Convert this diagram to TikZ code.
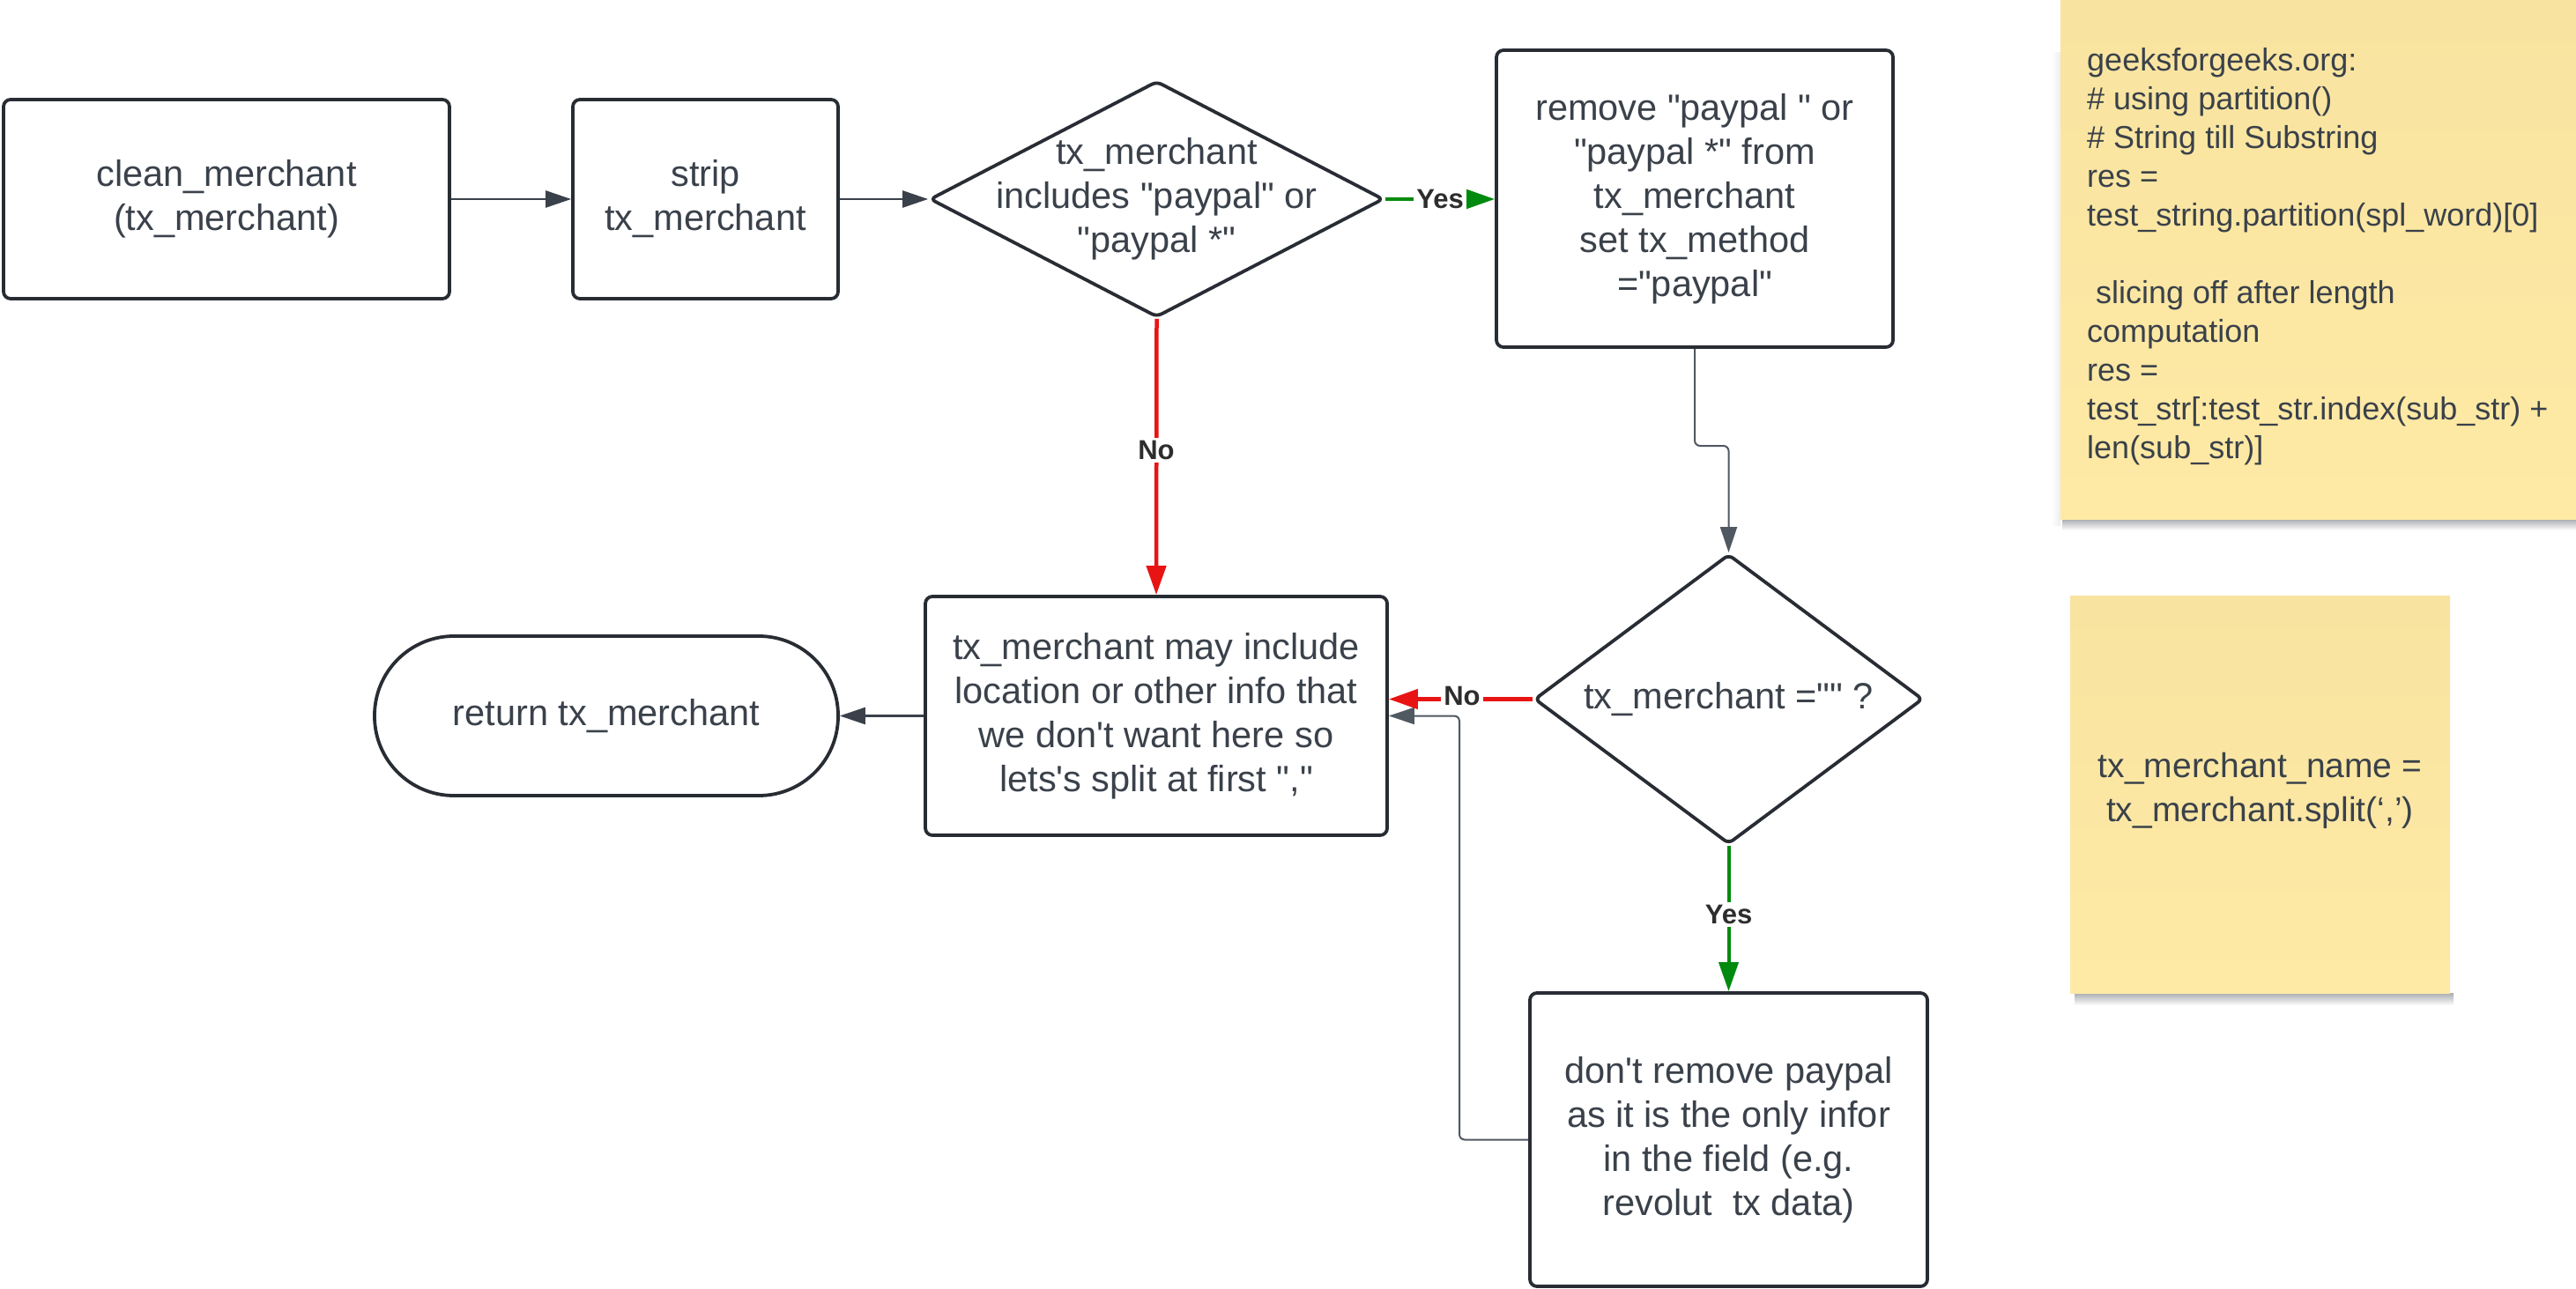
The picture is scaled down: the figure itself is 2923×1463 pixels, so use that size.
\documentclass[tikz,border=0pt]{standalone}
\usepackage{fontspec}
\newfontfamily\arialf{Liberation Sans}
\usetikzlibrary{arrows.meta,shapes.geometric}
\definecolor{textc}{RGB}{58,65,74}
\definecolor{borderc}{RGB}{40,44,51}
\definecolor{linec}{RGB}{58,65,74}
\definecolor{thinc}{RGB}{80,88,98}
\definecolor{redc}{RGB}{232,20,20}
\definecolor{greenc}{RGB}{0,138,14}
\definecolor{labc}{RGB}{45,45,45}
\definecolor{stickytop}{RGB}{248,228,160}
\definecolor{stickybot}{RGB}{254,234,165}
\definecolor{shadc}{RGB}{170,172,178}
\tikzset{
  txt/.style={text=textc, align=center, inner sep=0pt,
    font=\arialf\fontsize{41.5}{50}\selectfont},
  box/.style={txt, draw=borderc, line width=3.8pt, rounded corners=8pt, fill=white},
  stadium/.style={txt, draw=borderc, line width=3.8pt, rounded corners=90pt, fill=white},
  dia/.style={diamond, draw=borderc, line width=3.8pt, rounded corners=6pt, fill=white, inner sep=0pt},
  conn/.style={draw=linec, line width=2.5pt, -{Triangle[length=29pt,width=19pt]}},
  thinconn/.style={draw=thinc, line width=2pt, rounded corners=6pt, -{Triangle[length=29pt,width=19pt]}},
  redconn/.style={draw=redc, line width=4.5pt, -{Triangle[length=33pt,width=22pt]}},
  greenconn/.style={draw=greenc, line width=4pt, -{Triangle[length=33pt,width=22pt]}},
  lab/.style={fill=white, text=labc, inner sep=3pt, font=\arialf\bfseries\fontsize{31}{36}\selectfont},
  sticky/.style={top color=stickytop, bottom color=stickybot, draw=none, inner sep=0pt},
}
\begin{document}
\begin{tikzpicture}[x=1pt,y=-1pt]
\fill[white] (0,0) rectangle (2923,1463);
\useasboundingbox (0,0) rectangle (2923,1463);

% sticky note shadows (soft)
\shade[top color=shadc, bottom color=white] (2340,589) rectangle (2923,602);
\shade[left color=white, right color=black!7] (2328,60) rectangle (2338,596);
\shade[top color=shadc, bottom color=white] (2354,1127) rectangle (2784,1141);

% sticky notes
\node[sticky, minimum width=585pt, minimum height=589pt] (s1) at (2630.5,294.5) {};
\node[anchor=west, inner sep=0pt, align=left, text=textc,
      font=\arialf\fontsize{36}{44}\selectfont] (s1t) at (2368,291)
  {geeksforgeeks.org:\\
   \# using partition()\\
   \# String till Substring\\
   res =\\
   test\_string.partition(spl\_word)[0]\\[44pt]
   \hspace*{0.278em}slicing off after length\\
   computation\\
   res =\\
   test\_str[:test\_str.index(sub\_str) +\\
   len(sub\_str)]};
\node[sticky, minimum width=431pt, minimum height=451pt] (s2) at (2564.5,901.5) {};
\node[txt, font=\arialf\fontsize{39}{50}\selectfont] (s2t) at (2564.5,897)
  {tx\_merchant\_name =\\tx\_merchant.split(‘,’)};

% flow nodes
\node[box, minimum width=506pt, minimum height=226pt] (b1) at (257,226) {clean\_merchant\\(tx\_merchant)};
\node[box, minimum width=301pt, minimum height=226pt] (b2) at (800.5,226) {strip\\tx\_merchant};
\node[dia, minimum width=515pt, minimum height=268pt] (d1) at (1312.5,226) {};
\node[txt] (d1t) at (d1.center) {tx\_merchant\\includes "paypal" or\\"paypal *"};
\node[box, minimum width=450pt, minimum height=337pt] (b3) at (1923,225.5)
  {remove "paypal " or\\"paypal *" from\\tx\_merchant\\set tx\_method\\="paypal"};
\node[dia, minimum width=441pt, minimum height=329pt] (d2) at (1961.5,793.5) {};
\node[txt] (d2t) at (d2.center) {tx\_merchant ="" ?};
\node[box, minimum width=524pt, minimum height=271pt] (b4) at (1312,812.5)
  {tx\_merchant may include\\location or other info that\\we don't want here so\\lets's split at first ","};
\node[stadium, minimum width=526pt, minimum height=181pt] (ret) at (688,812.5) {return tx\_merchant};
\node[box, minimum width=451pt, minimum height=333pt] (b6) at (1961.5,1293.5)
  {don't remove paypal\\as it is the only infor\\in the field (e.g.\\revolut\ \ tx data)};

% helper coordinates
\coordinate (j1) at (0,506);
\coordinate (lp) at (1656,0);

% connectors
\draw[conn] (b1.east) -- (b2.west);
\draw[conn] (b2.east) -- (d1.west);
\draw[greenconn] (d1.east) -- (b3.west |- d1.east);
\node[lab] (yes1) at (1634,226) {Yes};
\draw[redconn] (d1.south) -- (b4.north);
\node[lab] (no1) at (1312,511) {No};
\draw[thinconn] (b3.south) -- (b3.south |- j1) -- (d2.north |- j1) -- (d2.north);
\draw[thinconn] (b6.west) -- (lp |- b6.west) -- (lp |- b4.east) -- (b4.east);
\draw[redconn] (d2.west) -- (b4.east |- d2.west);
\node[lab] (no2) at (1659,790) {No};
\draw[greenconn] (d2.south) -- (b6.north);
\node[lab] (yes2) at (1961.5,1038) {Yes};
\draw[conn] (b4.west) -- (ret.east);
\end{tikzpicture}
\end{document}
